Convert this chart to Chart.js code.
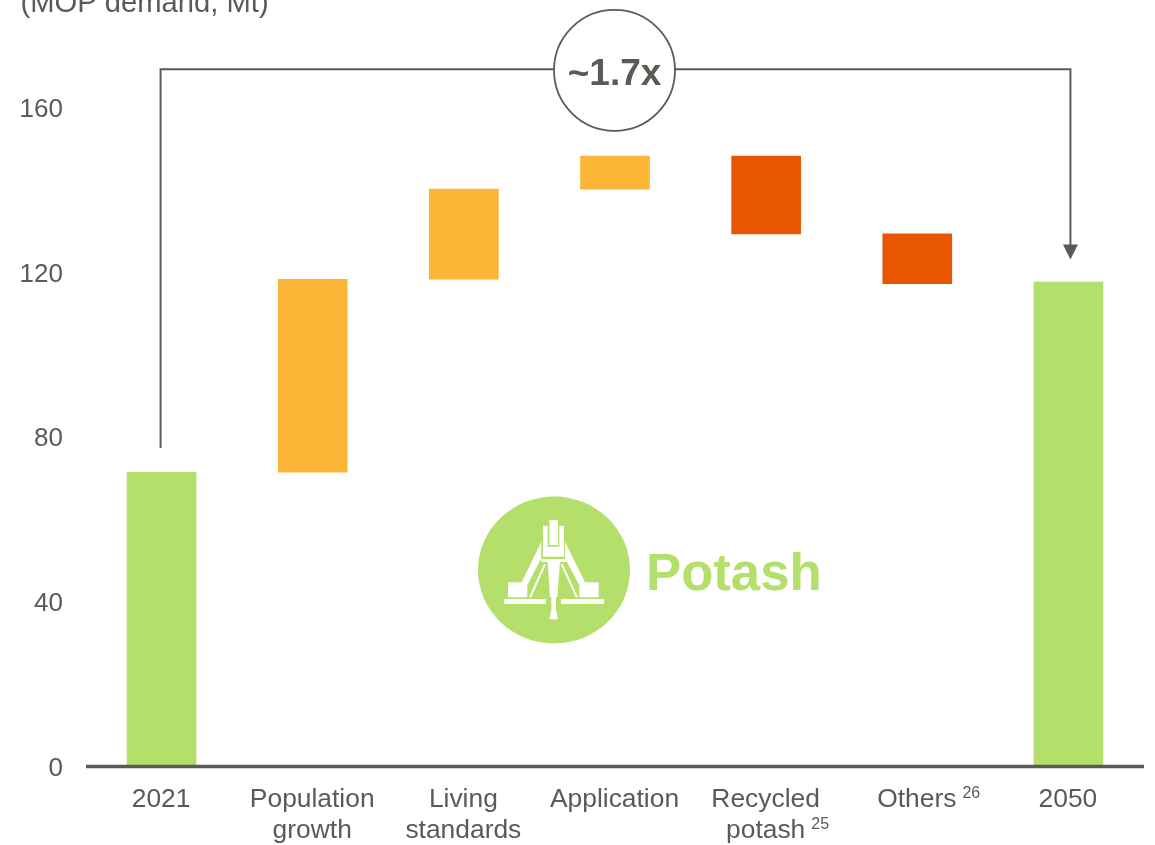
<!DOCTYPE html>
<html>
<head>
<meta charset="utf-8">
<style>
html,body{margin:0;padding:0;background:#fff;overflow:hidden}
#wrap{position:relative;width:1155px;height:845px}
canvas{display:block}
</style>
<script src="https://cdn.jsdelivr.net/npm/chart.js@4/dist/chart.umd.min.js"></script>
</head>
<body>
<div id="wrap"><canvas id="c" width="1155" height="845"></canvas></div>
<script>
const categories = [["2021"],["Population","growth"],["Living","standards"],["Application"],["Recycled","potash"],["Others"],["2050"]];
const barFrom = [0, 71.5, 118.4, 140.3, 148.3, 129.4, 0];
const barTo = [71.5, 118.4, 140.3, 148.3, 129.4, 117.3, 117.7];
const barColors = ["#b3df6a","#fbb637","#fbb637","#fbb637","#e85600","#e85600","#b3df6a"];
const footnotes = [null,null,null,null,"25","26",null];
const yTicks = [0,40,80,120,160];
const titleText = "(MOP demand, Mt)";
const multipleText = "~1.7x";
const bracketStart = 77.4, bracketTop = 169.4, bracketEnd = 123.2;
const logoText = "Potash";

const INK = "#595b54";
const GREEN = "#b3df6a";
const FONT = '"Liberation Sans", Arial, sans-serif';

function poly(ctx, cx, cy, pts){
  ctx.beginPath();
  pts.forEach((p,i)=>{
    const x = cx + (p[0]-252)/3, y = cy + (p[1]-240)/3;
    if(i) ctx.lineTo(x,y); else ctx.moveTo(x,y);
  });
  ctx.closePath();
  ctx.fill();
}

function nudgeLabels(scale, dx, dy){
  const orig = scale.getLabelItems;
  if(orig.__nudged) return;
  const wrapped = function(area){
    return orig.call(this, area).map(it => {
      const t = it.options.translation;
      return {...it, options:{...it.options, translation:[t[0]+dx, t[1]+dy]}};
    });
  };
  wrapped.__nudged = true;
  scale.getLabelItems = wrapped;
}

const overlay = {
  id:"overlay",
  afterDatasetsDraw(chart){
    const {ctx, chartArea, scales:{x,y}} = chart;
    ctx.save();

    // baseline along value 0
    const yZero = y.getPixelForValue(0);
    ctx.strokeStyle = INK;
    ctx.lineWidth = 3.5;
    ctx.beginPath();
    ctx.moveTo(chartArea.left, yZero);
    ctx.lineTo(chartArea.right, yZero);
    ctx.stroke();

    // axis heading
    ctx.fillStyle = INK;
    ctx.font = "29.2px " + FONT;
    ctx.textAlign = "left";
    ctx.textBaseline = "alphabetic";
    ctx.fillText(titleText, 20.5, 12);

    // bracket and arrow
    const xa = x.getPixelForValue(0) - 1, xb = x.getPixelForValue(6) + 2;
    const y0 = y.getPixelForValue(bracketStart), yT = y.getPixelForValue(bracketTop), y1 = y.getPixelForValue(bracketEnd);
    ctx.strokeStyle = INK;
    ctx.lineWidth = 2;
    ctx.beginPath();
    ctx.moveTo(xa,y0); ctx.lineTo(xa,yT); ctx.lineTo(xb,yT); ctx.lineTo(xb,y1-10);
    ctx.stroke();
    ctx.fillStyle = INK;
    ctx.beginPath();
    ctx.moveTo(xb,y1); ctx.lineTo(xb-7.5,y1-15); ctx.lineTo(xb+7.5,y1-15); ctx.closePath();
    ctx.fill();

    // multiple bubble
    const cxB = x.getPixelForValue(3) - 0.5, cyB = yT + 1;
    ctx.beginPath();
    ctx.arc(cxB, cyB, 60.5, 0, Math.PI*2);
    ctx.fillStyle = "#fff"; ctx.fill();
    ctx.lineWidth = 1.8; ctx.stroke();
    ctx.fillStyle = INK;
    ctx.font = "bold 37px " + FONT;
    ctx.textAlign = "center";
    ctx.textBaseline = "middle";
    ctx.fillText(multipleText, cxB, cyB + 4);

    // footnote superscripts
    ctx.textBaseline = "alphabetic";
    ctx.textAlign = "left";
    categories.forEach((lines,i)=>{
      if(!footnotes[i]) return;
      ctx.font = "26.4px " + FONT;
      const last = lines[lines.length-1];
      const w = ctx.measureText(last).width;
      const xx = x.getPixelForValue(i) + w/2 + 5.5;
      const yy = lines.length > 1 ? 829 : 798;
      ctx.font = "16px " + FONT;
      ctx.fillText(footnotes[i], xx, yy);
    });

    // logo
    const cx = 554, cy = 570;
    ctx.fillStyle = GREEN;
    ctx.beginPath(); ctx.ellipse(cx,cy,76,73.5,0,0,Math.PI*2); ctx.fill();
    ctx.fillStyle = "#fff";
    const shapes = [
      [[102,327],[228,327],[228,342],[102,342]],
      [[273,327],[402,327],[402,342],[273,342]],
      [[114,277],[155,277],[214,155],[214,205],[172,285],[172,322],[114,322]],
      [[386,277],[345,277],[285,155],[285,205],[328,285],[328,322],[386,322]],
      [[222,222],[228,222],[184,322],[177,322]],
      [[272,222],[278,222],[324,322],[317,322]],
      [[238,90],[264,90],[264,165],[238,165]],
      [[219,107],[233,107],[233,170],[268,170],[268,107],[282,107],[282,200],[219,200]],
      [[214,207],[290,207],[290,216],[214,216]],
      [[233,216],[270,216],[262,322],[240,322]],
      [[244,322],[258,322],[258,360],[264,388],[238,388],[244,360]]
    ];
    shapes.forEach(s=>poly(ctx,cx,cy,s));
    ctx.fillStyle = GREEN;
    ctx.font = "bold 52.7px " + FONT;
    ctx.textAlign = "left";
    ctx.textBaseline = "middle";
    ctx.fillText(logoText, 646, 575);
    ctx.restore();
  }
};

new Chart(document.getElementById("c"), {
  type:"bar",
  data:{
    labels:categories,
    datasets:[{
      data:barFrom.map((v,i)=>[v,barTo[i]]),
      backgroundColor:barColors,
      borderWidth:0,
      borderSkipped:false,
      barThickness:69
    }]
  },
  options:{
    responsive:false,
    animation:false,
    devicePixelRatio:1,
    layout:{padding:{top:108,right:11,left:0,bottom:0}},
    plugins:{legend:{display:false},tooltip:{enabled:false},title:{display:false}},
    scales:{
      x:{
        grid:{display:false,drawTicks:false},
        border:{display:false},
        ticks:{color:INK,font:{family:FONT,size:26.4,lineHeight:1.175},padding:18,maxRotation:0,minRotation:0,autoSkip:false},
        afterFit(s){s.height=78.5;},
        afterUpdate(s){nudgeLabels(s,-0.5,0);}
      },
      y:{
        min:0,max:160,
        grid:{display:false,drawTicks:false},
        border:{display:false},
        afterBuildTicks(s){s.ticks=yTicks.map(v=>({value:v}));},
        ticks:{color:INK,font:{family:FONT,size:26},padding:23},
        afterFit(s){s.width=86;},
        afterUpdate(s){nudgeLabels(s,0,2);}
      }
    }
  },
  plugins:[overlay]
});
</script>
</body>
</html>
